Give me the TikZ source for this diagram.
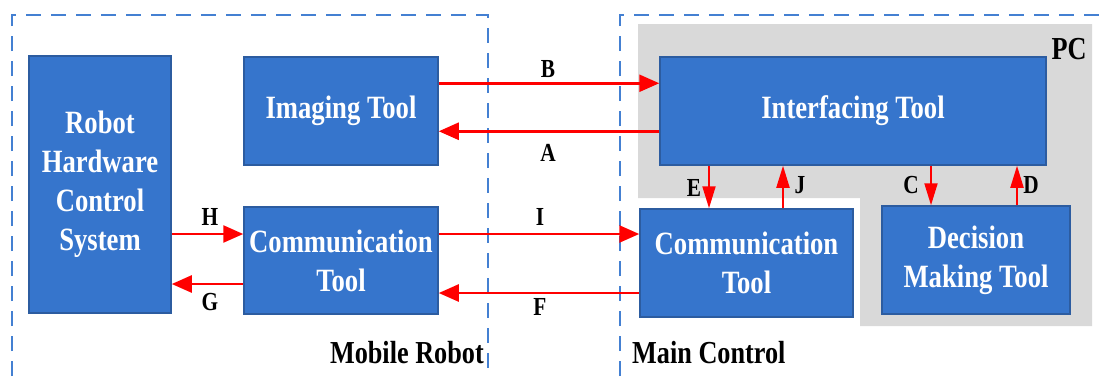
\documentclass[tikz,border=0pt]{standalone}
\usepackage{fontspec}
\newfontfamily\cond[FakeStretch=0.82]{Liberation Serif}
\usetikzlibrary{arrows.meta}
\definecolor{boxblue}{RGB}{54,117,204}
\definecolor{boxedge}{RGB}{44,92,160}
\definecolor{dashblue}{RGB}{68,128,210}
\definecolor{pcgray}{RGB}{217,217,217}
\definecolor{arrred}{RGB}{255,0,0}
\tikzset{
  tool/.style={draw=boxedge, line width=1.5pt, fill=boxblue, text=white, align=center,
    inner sep=0pt, font=\cond\bfseries\fontsize{32.5}{39}\selectfont},
  harr/.style={draw=arrred, line width=2.5pt, -{Triangle[length=20pt,width=17pt]}},
  varr/.style={draw=arrred, line width=2pt, -{Triangle[length=22pt,width=13pt]}},
  lbl/.style={inner sep=0pt, font=\cond\bfseries\fontsize{26}{30}\selectfont},
  grp/.style={inner sep=0pt, font=\cond\bfseries\fontsize{32}{36}\selectfont},
  dashbox/.style={draw=dashblue, line width=2pt, dash pattern=on 15pt off 10pt}
}
\begin{document}
\begin{tikzpicture}[x=1pt,y=-1pt]
\useasboundingbox (0,0) rectangle (1102,376);
% group outlines
\draw[dashbox] (12,376) -- (12,15) -- (488,15) -- (488,376);
\draw[dashbox] (620,376) -- (620,15) -- (1102,15);
\fill[pcgray] (638,24) -- (1092,24) -- (1092,326) -- (860,326) -- (860,198) -- (638,198) -- cycle;
% boxes
\node[tool, minimum width=142pt, minimum height=257pt] (rhcs) at (100,184.5) {Robot\\Hardware\\Control\\System};
\node[tool, minimum width=194pt, minimum height=108pt] (img) at (341,111) {Imaging Tool};
\node[tool, minimum width=194pt, minimum height=107pt] (commL) at (341,260.5) {Communication\\Tool};
\node[tool, minimum width=386pt, minimum height=108pt] (intf) at (853,111) {Interfacing Tool};
\node[tool, minimum width=213pt, minimum height=108pt] (commR) at (746.5,263) {Communication\\Tool};
\node[tool, minimum width=188pt, minimum height=108pt] (dmt) at (976,260) {Decision\\Making Tool};
% group labels
\node[grp, anchor=center] (pc) at (1069,49) {PC};
\node[grp, anchor=base east] (mr) at (484,363) {Mobile Robot};
\node[grp, anchor=base west] (mc) at (632,363) {Main Control};
% connector points
\coordinate (pB) at ([yshift=-27pt]img.north east);
\coordinate (pA) at ([yshift=-75pt]intf.north west);
\coordinate (pH) at ([yshift=26.5pt]commL.west);
\coordinate (pG) at ([yshift=-23.5pt]commL.west);
\coordinate (pI) at ([yshift=29pt]commR.west);
\coordinate (pF) at ([yshift=-30pt]commR.west);
\coordinate (pE) at ([xshift=-37.5pt]commR.north);
\coordinate (pJ) at ([xshift=36.5pt]commR.north);
\coordinate (pC) at ([xshift=-45pt]dmt.north);
\coordinate (pD) at ([xshift=41pt]dmt.north);
% connectors
\draw[harr] (pB) -- (pB -| intf.west);
\draw[harr] (pA) -- (pA -| img.east);
\draw[harr] (rhcs.east |- pH) -- (pH);
\draw[harr] (pG) -- (pG -| rhcs.east);
\draw[harr] (commL.east |- pI) -- (pI);
\draw[harr] (pF) -- (pF -| commL.east);
\draw[varr] (intf.south -| pE) -- (pE);
\draw[varr] (pJ) -- (intf.south -| pJ);
\draw[varr] (intf.south -| pC) -- (pC);
\draw[varr] (pD) -- (intf.south -| pD);
% connector labels
\node[lbl] (lB) at (548,69) {B};
\node[lbl] (lA) at (548,153) {A};
\node[lbl] (lH) at (210,217) {H};
\node[lbl] (lG) at (210,302) {G};
\node[lbl] (lI) at (540,217) {I};
\node[lbl] (lF) at (540,307) {F};
\node[lbl] (lE) at (694,188) {E};
\node[lbl] (lJ) at (800,185) {J};
\node[lbl] (lC) at (911,185) {C};
\node[lbl] (lD) at (1031,185) {D};
\end{tikzpicture}
\end{document}
